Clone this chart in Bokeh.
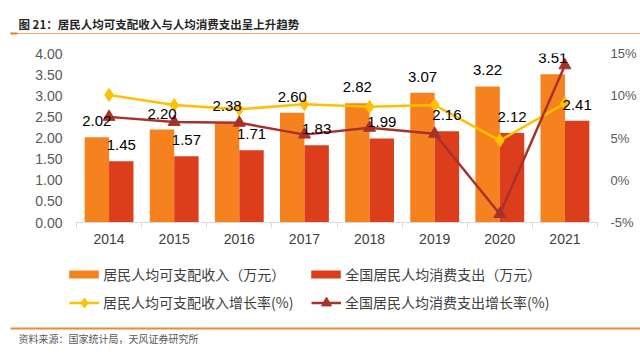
import numpy as np
from bokeh.plotting import figure
from bokeh.layouts import column
from bokeh.core.properties import value
from bokeh.models import (Range1d, LinearAxis, FixedTicker, NumeralTickFormatter, PrintfTickFormatter,
                          ColumnDataSource, LabelSet, Label, Legend, LegendItem, BoxAnnotation)
from bokeh.embed import file_html
from bokeh.resources import INLINE

# ---- data ----
years = ["2014", "2015", "2016", "2017", "2018", "2019", "2020", "2021"]
income = [2.02, 2.20, 2.38, 2.60, 2.82, 3.07, 3.22, 3.51]            # 居民人均可支配收入（万元）
consumption = [1.45, 1.57, 1.71, 1.83, 1.99, 2.16, 2.12, 2.41]       # 全国居民人均消费支出（万元）
income_growth = [10.1, 8.9, 8.4, 9.0, 8.7, 8.9, 4.7, 9.1]            # %
consumption_growth = [7.5, 6.9, 6.8, 5.4, 6.2, 5.5, -4.0, 13.6]      # %
left_ticks = [0, 0.5, 1.0, 1.5, 2.0, 2.5, 3.0, 3.5, 4.0]
right_ticks = [-5, 0, 5, 10, 15]

title_text = "图 21：居民人均可支配收入与人均消费支出呈上升趋势"
source_text = "资料来源：国家统计局，天风证券研究所"
names = ["居民人均可支配收入（万元）", "全国居民人均消费支出（万元）",
         "居民人均可支配收入增长率(%)", "全国居民人均消费支出增长率(%)"]

C_INC = "#F5821F"
C_CON = "#DC3E1B"
C_IG = "#FFC000"
C_CG = "#A8322A"
CJK = "Noto Sans CJK SC"
NUM = "Liberation Sans"
W = 640


def blank(height):
    f = figure(width=W, height=height, x_range=Range1d(0, W), y_range=Range1d(0, height),
               x_axis_location=None, y_axis_location=None, min_border=0, frame_align=False,
               output_backend="svg", toolbar_location=None)
    f.grid.visible = False
    f.outline_line_color = None
    return f


# ---------------- header (page y 0..44) ----------------
HH = 44
hdr = blank(HH)
hdr.add_layout(Label(x=18, y=HH - 23, text=title_text, text_font=CJK, text_font_size="11.5px",
                     text_font_style="bold", text_color="#262626", text_baseline="middle"))
hdr.add_layout(BoxAnnotation(left=10, right=W, bottom=HH - 33.5, top=HH - 32.5,
                             fill_color="#F6A96B", fill_alpha=1, line_color=None))
hdr.add_layout(BoxAnnotation(left=10, right=17, bottom=HH - 34, top=HH - 32,
                             fill_color="#E97A2A", fill_alpha=1, line_color=None))

# ---------------- main chart (page y 44..252) ----------------
BW = 0.375
xs = np.arange(len(years)) + 0.5
src = ColumnDataSource(dict(
    x=xs, xi=xs - BW / 2, xc=xs + BW / 2,
    income=income, consumption=consumption,
    ig=income_growth, cg=consumption_growth,
    il=[f"{v:.2f}" for v in income], cl=[f"{v:.2f}" for v in consumption],
))

p = figure(width=W, height=208, frame_align=False,
           x_range=Range1d(0, len(years)), y_range=Range1d(0, 4),
           output_backend="svg", toolbar_location=None,
           min_border_left=76, min_border_top=9, min_border_right=43, min_border_bottom=30)
p.outline_line_color = None
p.xgrid.grid_line_color = None
p.ygrid.grid_line_color = None

xa = p.xaxis[0]
xa.ticker = FixedTicker(ticks=list(xs), minor_ticks=list(range(len(years) + 1)))
xa.major_label_overrides = {float(x): y for x, y in zip(xs, years)}
xa.major_tick_line_color = None
xa.major_tick_out = 0
xa.minor_tick_line_color = "#D9D9D9"
xa.minor_tick_out = 5
xa.minor_tick_in = 0
xa.axis_line_color = "#D9D9D9"
xa.major_label_text_font = NUM
xa.major_label_text_font_size = "14px"
xa.major_label_text_color = "#404040"
xa.major_label_standoff = 6

ya = p.yaxis[0]
ya.ticker = FixedTicker(ticks=left_ticks)
ya.formatter = NumeralTickFormatter(format="0.00")
ya.axis_line_color = None
ya.major_tick_line_color = None
ya.major_tick_out = 0
ya.minor_tick_line_color = None
ya.major_label_text_font = NUM
ya.major_label_text_font_size = "14px"
ya.major_label_text_color = "#595959"
ya.major_label_standoff = 14

p.extra_y_ranges = {"pct": Range1d(-5, 15)}
ra = LinearAxis(y_range_name="pct", ticker=FixedTicker(ticks=right_ticks),
                formatter=PrintfTickFormatter(format="%d%%"))
ra.axis_line_color = None
ra.major_tick_line_color = None
ra.minor_tick_line_color = None
ra.major_tick_out = 0
ra.major_label_text_font = NUM
ra.major_label_text_font_size = "13px"
ra.major_label_text_color = "#595959"
ra.major_label_standoff = 13
p.add_layout(ra, "right")

p.vbar(x="xi", top="income", width=BW, source=src, fill_color=C_INC, line_color=None)
p.vbar(x="xc", top="consumption", width=BW, source=src, fill_color=C_CON, line_color=None)

p.line("x", "ig", source=src, y_range_name="pct", line_color=C_IG, line_width=2.5)
p.scatter("x", "ig", source=src, y_range_name="pct", marker="diamond", size=13,
          fill_color=C_IG, line_color=C_IG)
p.line("x", "cg", source=src, y_range_name="pct", line_color=C_CG, line_width=2.5)
p.scatter("x", "cg", source=src, y_range_name="pct", marker="triangle", size=12,
          fill_color=C_CG, line_color=C_CG)

for xf, yf, tf in (("xi", "income", "il"), ("xc", "consumption", "cl")):
    p.add_layout(LabelSet(x=xf, y=yf, text=tf, source=src, y_offset=11,
                          text_align="center", text_baseline="alphabetic",
                          text_font=value(NUM), text_font_size="15px", text_color="#000000"))

# ---------------- footer: legend + source (page y 252..358) ----------------
FT, FB = 252, 358
FH = FB - FT
ft = blank(FH)

off = dict(x=[-1000], y=[-1000])  # legend-only proxies, outside the visible range
rb1 = ft.vbar(x=[-1000], top=[-1000], width=1, fill_color=C_INC, line_color=None)
rb2 = ft.vbar(x=[-1000], top=[-1000], width=1, fill_color=C_CON, line_color=None)
rl1 = ft.line(x=[-1000, -999], y=[-1000, -999], line_color=C_IG, line_width=2.5)
rs1 = ft.scatter(x=[-1000], y=[-1000], marker="diamond", fill_color=C_IG, line_color=C_IG)
rl2 = ft.line(x=[-1000, -999], y=[-1000, -999], line_color=C_CG, line_width=2.5)
rs2 = ft.scatter(x=[-1000], y=[-1000], marker="triangle", fill_color=C_CG, line_color=C_CG)

legend_specs = [
    (names[0], [rb1], 69 - 3.7, FB - 284, 37, 10, 1),
    (names[1], [rb2], 311 - 3.7, FB - 284, 37, 10, 1),
    (names[2], [rl1, rs1], 69, FB - 314.5, 30, 25, 4),
    (names[3], [rl2, rs2], 311, FB - 314.5, 30, 25, 4),
]
for lab, rends, lx, ly, gw, gh, st in legend_specs:
    leg = Legend(items=[LegendItem(label=lab, renderers=rends)], location=(lx, ly),
                 orientation="vertical", border_line_color=None, background_fill_alpha=0,
                 padding=0, margin=0, spacing=0, glyph_width=gw, glyph_height=gh,
                 label_standoff=st, label_height=20,
                 label_text_font=CJK, label_text_font_size="14px", label_text_color="#404040")
    ft.add_layout(leg)

ft.add_layout(BoxAnnotation(left=10, right=W, bottom=FB - 329, top=FB - 327,
                            fill_color="#F08A30", fill_alpha=1, line_color=None))
ft.add_layout(Label(x=18, y=FB - 338, text=source_text, text_font=CJK, text_font_size="10px",
                    text_color="#595959", text_baseline="middle"))

layout = column(hdr, p, ft, spacing=0)
open("out.html", "w").write(file_html(layout, INLINE))
